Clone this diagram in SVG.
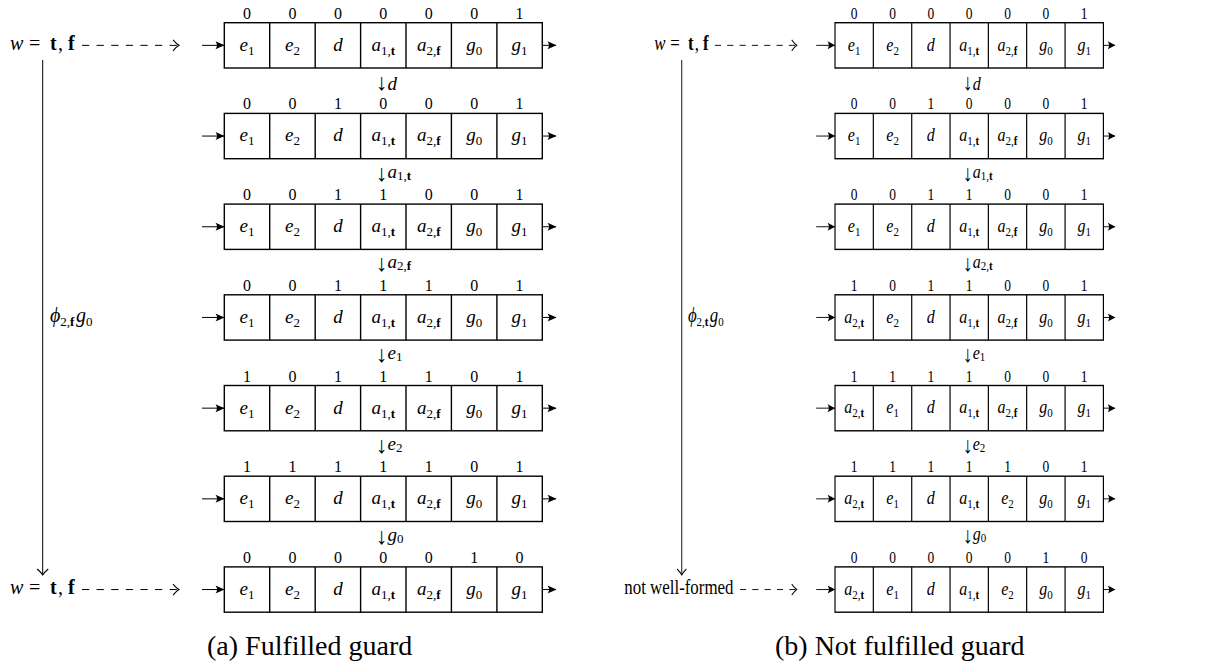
<svg xmlns="http://www.w3.org/2000/svg" width="1218" height="661" viewBox="0 0 1218 661">
<style>
.tp{fill:#fff;stroke:#000;stroke-width:1.4}
.dv{stroke:#000;stroke-width:1.4;fill:none}
text{font-family:"Liberation Serif","DejaVu Serif",serif;fill:#000}
.n{font-size:16px;text-anchor:middle}
.m{font-size:19px;font-style:italic;text-anchor:middle}
.s{font-size:13px;font-style:normal}
.b{font-weight:bold;font-style:normal}
.i{font-style:italic}
.up{font-style:normal}
.ar{font-style:normal;font-size:23px}
.lbl{font-size:20px}
.st{font-size:19px}
.cap{font-size:28px}
.ln{stroke:#000;stroke-width:1;fill:none}
.ds{stroke-dasharray:7.3 7.3}
</style>
<defs>
<marker id="to" viewBox="-8 -7 10 14" markerWidth="10" markerHeight="14" refX="0" refY="0" orient="auto" markerUnits="userSpaceOnUse"><path d="M-6,-5.5 Q-2.4,-1.4 0,0 Q-2.4,1.4 -6,5.5" fill="none" stroke="#000" stroke-width="1.1"/></marker>
<marker id="lx" viewBox="-10 -5 11 10" markerWidth="11" markerHeight="10" refX="0" refY="0" orient="auto" markerUnits="userSpaceOnUse"><path d="M0.5,0 L-8.5,-4 Q-5.5,0 -8.5,4Z" fill="#000"/></marker>
</defs>

<g id="panel-a">
<g id="a-connectors">
<path class="ln" marker-end="url(#lx)" d="M202 45.35H224"/>
<path class="ln" marker-end="url(#lx)" d="M202 136.05H224"/>
<path class="ln" marker-end="url(#lx)" d="M202 226.75H224"/>
<path class="ln" marker-end="url(#lx)" d="M202 317.45H224"/>
<path class="ln" marker-end="url(#lx)" d="M202 408.15H224"/>
<path class="ln" marker-end="url(#lx)" d="M202 498.85H224"/>
<path class="ln" marker-end="url(#lx)" d="M202 589.55H224"/>
<path class="ln" marker-end="url(#lx)" d="M542.3 45.35H556"/>
<path class="ln" marker-end="url(#lx)" d="M542.3 136.05H556"/>
<path class="ln" marker-end="url(#lx)" d="M542.3 226.75H556"/>
<path class="ln" marker-end="url(#lx)" d="M542.3 317.45H556"/>
<path class="ln" marker-end="url(#lx)" d="M542.3 408.15H556"/>
<path class="ln" marker-end="url(#lx)" d="M542.3 498.85H556"/>
<path class="ln" marker-end="url(#lx)" d="M542.3 589.55H556"/>
<path class="ln ds" marker-end="url(#to)" d="M82 45.35H179"/>
<path class="ln ds" marker-end="url(#to)" d="M82 589.55H179"/>
<path class="ln" marker-end="url(#to)" d="M42.7 60V575"/>
<text class="st" x="376" y="90"><tspan class="ar">↓</tspan><tspan class="i">d</tspan></text>
<text class="st" x="376" y="180.7"><tspan class="ar">↓</tspan><tspan class="i" dy="-3">a</tspan><tspan class="s" dy="2">1,<tspan class="b">t</tspan></tspan></text>
<text class="st" x="376" y="271.4"><tspan class="ar">↓</tspan><tspan class="i" dy="-3">a</tspan><tspan class="s" dy="2">2,<tspan class="b">f</tspan></tspan></text>
<text class="st" x="376" y="362.1"><tspan class="ar">↓</tspan><tspan class="i" dy="-3">e</tspan><tspan class="s" dy="2">1</tspan></text>
<text class="st" x="376" y="452.8"><tspan class="ar">↓</tspan><tspan class="i" dy="-3">e</tspan><tspan class="s" dy="2">2</tspan></text>
<text class="st" x="376" y="543.5"><tspan class="ar">↓</tspan><tspan class="i" dy="-3">g</tspan><tspan class="s" dy="2">0</tspan></text>
</g>
<text id="a-w-top" class="lbl" y="50"><tspan class="i" x="10">w</tspan><tspan x="29">=</tspan><tspan class="b" x="50">t</tspan><tspan x="58">,</tspan><tspan class="b" x="68">f</tspan></text>
<text id="a-phi" class="lbl" x="50" y="322"><tspan class="i">ϕ</tspan><tspan class="s" dy="4">2,<tspan class="b">f</tspan></tspan><tspan class="i" dx="1.5" dy="-4">g</tspan><tspan class="s" dy="4">0</tspan></text>
<text id="a-w-bot" class="lbl" y="594.2"><tspan class="i" x="10">w</tspan><tspan x="29">=</tspan><tspan class="b" x="50">t</tspan><tspan x="58">,</tspan><tspan class="b" x="68">f</tspan></text>

<g id="a-row1" transform="translate(0,22.7)">
<rect class="tp" x="224.3" width="318" height="45.3"/>
<path class="dv" d="M269.7 0v45.3M315.2 0v45.3M360.6 0v45.3M406 0v45.3M451.4 0v45.3M496.9 0v45.3"/>
<text class="n" y="-4"><tspan x="247">0</tspan><tspan x="292.5">0</tspan><tspan x="337.9">0</tspan><tspan x="383.3">0</tspan><tspan x="428.7">0</tspan><tspan x="474.2">0</tspan><tspan x="519.6">1</tspan></text>
<text class="m" x="247" y="28">e<tspan class="s" dy="4">1</tspan></text>
<text class="m" x="292.5" y="28">e<tspan class="s" dy="4">2</tspan></text>
<text class="m" x="337.9" y="28">d</text>
<text class="m" x="383.3" y="28">a<tspan class="s" dy="4">1,<tspan class="b">t</tspan></tspan></text>
<text class="m" x="428.7" y="28">a<tspan class="s" dy="4">2,<tspan class="b">f</tspan></tspan></text>
<text class="m" x="474.2" y="28">g<tspan class="s" dy="4">0</tspan></text>
<text class="m" x="519.6" y="28">g<tspan class="s" dy="4">1</tspan></text>
</g>
<g id="a-row2" transform="translate(0,113.4)">
<rect class="tp" x="224.3" width="318" height="45.3"/>
<path class="dv" d="M269.7 0v45.3M315.2 0v45.3M360.6 0v45.3M406 0v45.3M451.4 0v45.3M496.9 0v45.3"/>
<text class="n" y="-4"><tspan x="247">0</tspan><tspan x="292.5">0</tspan><tspan x="337.9">1</tspan><tspan x="383.3">0</tspan><tspan x="428.7">0</tspan><tspan x="474.2">0</tspan><tspan x="519.6">1</tspan></text>
<text class="m" x="247" y="28">e<tspan class="s" dy="4">1</tspan></text>
<text class="m" x="292.5" y="28">e<tspan class="s" dy="4">2</tspan></text>
<text class="m" x="337.9" y="28">d</text>
<text class="m" x="383.3" y="28">a<tspan class="s" dy="4">1,<tspan class="b">t</tspan></tspan></text>
<text class="m" x="428.7" y="28">a<tspan class="s" dy="4">2,<tspan class="b">f</tspan></tspan></text>
<text class="m" x="474.2" y="28">g<tspan class="s" dy="4">0</tspan></text>
<text class="m" x="519.6" y="28">g<tspan class="s" dy="4">1</tspan></text>
</g>
<g id="a-row3" transform="translate(0,204.1)">
<rect class="tp" x="224.3" width="318" height="45.3"/>
<path class="dv" d="M269.7 0v45.3M315.2 0v45.3M360.6 0v45.3M406 0v45.3M451.4 0v45.3M496.9 0v45.3"/>
<text class="n" y="-4"><tspan x="247">0</tspan><tspan x="292.5">0</tspan><tspan x="337.9">1</tspan><tspan x="383.3">1</tspan><tspan x="428.7">0</tspan><tspan x="474.2">0</tspan><tspan x="519.6">1</tspan></text>
<text class="m" x="247" y="28">e<tspan class="s" dy="4">1</tspan></text>
<text class="m" x="292.5" y="28">e<tspan class="s" dy="4">2</tspan></text>
<text class="m" x="337.9" y="28">d</text>
<text class="m" x="383.3" y="28">a<tspan class="s" dy="4">1,<tspan class="b">t</tspan></tspan></text>
<text class="m" x="428.7" y="28">a<tspan class="s" dy="4">2,<tspan class="b">f</tspan></tspan></text>
<text class="m" x="474.2" y="28">g<tspan class="s" dy="4">0</tspan></text>
<text class="m" x="519.6" y="28">g<tspan class="s" dy="4">1</tspan></text>
</g>
<g id="a-row4" transform="translate(0,294.8)">
<rect class="tp" x="224.3" width="318" height="45.3"/>
<path class="dv" d="M269.7 0v45.3M315.2 0v45.3M360.6 0v45.3M406 0v45.3M451.4 0v45.3M496.9 0v45.3"/>
<text class="n" y="-4"><tspan x="247">0</tspan><tspan x="292.5">0</tspan><tspan x="337.9">1</tspan><tspan x="383.3">1</tspan><tspan x="428.7">1</tspan><tspan x="474.2">0</tspan><tspan x="519.6">1</tspan></text>
<text class="m" x="247" y="28">e<tspan class="s" dy="4">1</tspan></text>
<text class="m" x="292.5" y="28">e<tspan class="s" dy="4">2</tspan></text>
<text class="m" x="337.9" y="28">d</text>
<text class="m" x="383.3" y="28">a<tspan class="s" dy="4">1,<tspan class="b">t</tspan></tspan></text>
<text class="m" x="428.7" y="28">a<tspan class="s" dy="4">2,<tspan class="b">f</tspan></tspan></text>
<text class="m" x="474.2" y="28">g<tspan class="s" dy="4">0</tspan></text>
<text class="m" x="519.6" y="28">g<tspan class="s" dy="4">1</tspan></text>
</g>
<g id="a-row5" transform="translate(0,385.5)">
<rect class="tp" x="224.3" width="318" height="45.3"/>
<path class="dv" d="M269.7 0v45.3M315.2 0v45.3M360.6 0v45.3M406 0v45.3M451.4 0v45.3M496.9 0v45.3"/>
<text class="n" y="-4"><tspan x="247">1</tspan><tspan x="292.5">0</tspan><tspan x="337.9">1</tspan><tspan x="383.3">1</tspan><tspan x="428.7">1</tspan><tspan x="474.2">0</tspan><tspan x="519.6">1</tspan></text>
<text class="m" x="247" y="28">e<tspan class="s" dy="4">1</tspan></text>
<text class="m" x="292.5" y="28">e<tspan class="s" dy="4">2</tspan></text>
<text class="m" x="337.9" y="28">d</text>
<text class="m" x="383.3" y="28">a<tspan class="s" dy="4">1,<tspan class="b">t</tspan></tspan></text>
<text class="m" x="428.7" y="28">a<tspan class="s" dy="4">2,<tspan class="b">f</tspan></tspan></text>
<text class="m" x="474.2" y="28">g<tspan class="s" dy="4">0</tspan></text>
<text class="m" x="519.6" y="28">g<tspan class="s" dy="4">1</tspan></text>
</g>
<g id="a-row6" transform="translate(0,476.2)">
<rect class="tp" x="224.3" width="318" height="45.3"/>
<path class="dv" d="M269.7 0v45.3M315.2 0v45.3M360.6 0v45.3M406 0v45.3M451.4 0v45.3M496.9 0v45.3"/>
<text class="n" y="-4"><tspan x="247">1</tspan><tspan x="292.5">1</tspan><tspan x="337.9">1</tspan><tspan x="383.3">1</tspan><tspan x="428.7">1</tspan><tspan x="474.2">0</tspan><tspan x="519.6">1</tspan></text>
<text class="m" x="247" y="28">e<tspan class="s" dy="4">1</tspan></text>
<text class="m" x="292.5" y="28">e<tspan class="s" dy="4">2</tspan></text>
<text class="m" x="337.9" y="28">d</text>
<text class="m" x="383.3" y="28">a<tspan class="s" dy="4">1,<tspan class="b">t</tspan></tspan></text>
<text class="m" x="428.7" y="28">a<tspan class="s" dy="4">2,<tspan class="b">f</tspan></tspan></text>
<text class="m" x="474.2" y="28">g<tspan class="s" dy="4">0</tspan></text>
<text class="m" x="519.6" y="28">g<tspan class="s" dy="4">1</tspan></text>
</g>
<g id="a-row7" transform="translate(0,566.9)">
<rect class="tp" x="224.3" width="318" height="45.3"/>
<path class="dv" d="M269.7 0v45.3M315.2 0v45.3M360.6 0v45.3M406 0v45.3M451.4 0v45.3M496.9 0v45.3"/>
<text class="n" y="-4"><tspan x="247">0</tspan><tspan x="292.5">0</tspan><tspan x="337.9">0</tspan><tspan x="383.3">0</tspan><tspan x="428.7">0</tspan><tspan x="474.2">1</tspan><tspan x="519.6">0</tspan></text>
<text class="m" x="247" y="28">e<tspan class="s" dy="4">1</tspan></text>
<text class="m" x="292.5" y="28">e<tspan class="s" dy="4">2</tspan></text>
<text class="m" x="337.9" y="28">d</text>
<text class="m" x="383.3" y="28">a<tspan class="s" dy="4">1,<tspan class="b">t</tspan></tspan></text>
<text class="m" x="428.7" y="28">a<tspan class="s" dy="4">2,<tspan class="b">f</tspan></tspan></text>
<text class="m" x="474.2" y="28">g<tspan class="s" dy="4">0</tspan></text>
<text class="m" x="519.6" y="28">g<tspan class="s" dy="4">1</tspan></text>
</g>
</g>

<g id="panel-b" transform="translate(645.7,0) scale(0.844,1)">
<g id="b-connectors">
<path class="ln" marker-end="url(#lx)" d="M202 45.35H224"/>
<path class="ln" marker-end="url(#lx)" d="M202 136.05H224"/>
<path class="ln" marker-end="url(#lx)" d="M202 226.75H224"/>
<path class="ln" marker-end="url(#lx)" d="M202 317.45H224"/>
<path class="ln" marker-end="url(#lx)" d="M202 408.15H224"/>
<path class="ln" marker-end="url(#lx)" d="M202 498.85H224"/>
<path class="ln" marker-end="url(#lx)" d="M202 589.55H224"/>
<path class="ln" marker-end="url(#lx)" d="M542.3 45.35H556"/>
<path class="ln" marker-end="url(#lx)" d="M542.3 136.05H556"/>
<path class="ln" marker-end="url(#lx)" d="M542.3 226.75H556"/>
<path class="ln" marker-end="url(#lx)" d="M542.3 317.45H556"/>
<path class="ln" marker-end="url(#lx)" d="M542.3 408.15H556"/>
<path class="ln" marker-end="url(#lx)" d="M542.3 498.85H556"/>
<path class="ln" marker-end="url(#lx)" d="M542.3 589.55H556"/>
<path class="ln ds" marker-end="url(#to)" d="M82 45.35H179"/>
<path class="ln ds" marker-end="url(#to)" d="M111.7 589.55H179"/>
<path class="ln" marker-end="url(#to)" d="M42.7 60V575"/>
<text class="st" x="376" y="90"><tspan class="ar">↓</tspan><tspan class="i">d</tspan></text>
<text class="st" x="376" y="180.7"><tspan class="ar">↓</tspan><tspan class="i" dy="-3">a</tspan><tspan class="s" dy="2">1,<tspan class="b">t</tspan></tspan></text>
<text class="st" x="376" y="271.4"><tspan class="ar">↓</tspan><tspan class="i" dy="-3">a</tspan><tspan class="s" dy="2">2,<tspan class="b">t</tspan></tspan></text>
<text class="st" x="376" y="362.1"><tspan class="ar">↓</tspan><tspan class="i" dy="-3">e</tspan><tspan class="s" dy="2">1</tspan></text>
<text class="st" x="376" y="452.8"><tspan class="ar">↓</tspan><tspan class="i" dy="-3">e</tspan><tspan class="s" dy="2">2</tspan></text>
<text class="st" x="376" y="543.5"><tspan class="ar">↓</tspan><tspan class="i" dy="-3">g</tspan><tspan class="s" dy="2">0</tspan></text>
</g>
<text id="b-w-top" class="lbl" y="50"><tspan class="i" x="10">w</tspan><tspan x="29">=</tspan><tspan class="b" x="50">t</tspan><tspan x="58">,</tspan><tspan class="b" x="68">f</tspan></text>
<text id="b-phi" class="lbl" x="50" y="322"><tspan class="i">ϕ</tspan><tspan class="s" dy="4">2,<tspan class="b">t</tspan></tspan><tspan class="i" dx="1.5" dy="-4">g</tspan><tspan class="s" dy="4">0</tspan></text>
<text id="b-notwf" class="lbl" x="104" y="594.2" text-anchor="end">not well-formed</text>

<g id="b-row1" transform="translate(0,22.7)">
<rect class="tp" x="224.3" width="318" height="45.3"/>
<path class="dv" d="M269.7 0v45.3M315.2 0v45.3M360.6 0v45.3M406 0v45.3M451.4 0v45.3M496.9 0v45.3"/>
<text class="n" y="-4"><tspan x="247">0</tspan><tspan x="292.5">0</tspan><tspan x="337.9">0</tspan><tspan x="383.3">0</tspan><tspan x="428.7">0</tspan><tspan x="474.2">0</tspan><tspan x="519.6">1</tspan></text>
<text class="m" x="247" y="28">e<tspan class="s" dy="4">1</tspan></text>
<text class="m" x="292.5" y="28">e<tspan class="s" dy="4">2</tspan></text>
<text class="m" x="337.9" y="28">d</text>
<text class="m" x="383.3" y="28">a<tspan class="s" dy="4">1,<tspan class="b">t</tspan></tspan></text>
<text class="m" x="428.7" y="28">a<tspan class="s" dy="4">2,<tspan class="b">f</tspan></tspan></text>
<text class="m" x="474.2" y="28">g<tspan class="s" dy="4">0</tspan></text>
<text class="m" x="519.6" y="28">g<tspan class="s" dy="4">1</tspan></text>
</g>
<g id="b-row2" transform="translate(0,113.4)">
<rect class="tp" x="224.3" width="318" height="45.3"/>
<path class="dv" d="M269.7 0v45.3M315.2 0v45.3M360.6 0v45.3M406 0v45.3M451.4 0v45.3M496.9 0v45.3"/>
<text class="n" y="-4"><tspan x="247">0</tspan><tspan x="292.5">0</tspan><tspan x="337.9">1</tspan><tspan x="383.3">0</tspan><tspan x="428.7">0</tspan><tspan x="474.2">0</tspan><tspan x="519.6">1</tspan></text>
<text class="m" x="247" y="28">e<tspan class="s" dy="4">1</tspan></text>
<text class="m" x="292.5" y="28">e<tspan class="s" dy="4">2</tspan></text>
<text class="m" x="337.9" y="28">d</text>
<text class="m" x="383.3" y="28">a<tspan class="s" dy="4">1,<tspan class="b">t</tspan></tspan></text>
<text class="m" x="428.7" y="28">a<tspan class="s" dy="4">2,<tspan class="b">f</tspan></tspan></text>
<text class="m" x="474.2" y="28">g<tspan class="s" dy="4">0</tspan></text>
<text class="m" x="519.6" y="28">g<tspan class="s" dy="4">1</tspan></text>
</g>
<g id="b-row3" transform="translate(0,204.1)">
<rect class="tp" x="224.3" width="318" height="45.3"/>
<path class="dv" d="M269.7 0v45.3M315.2 0v45.3M360.6 0v45.3M406 0v45.3M451.4 0v45.3M496.9 0v45.3"/>
<text class="n" y="-4"><tspan x="247">0</tspan><tspan x="292.5">0</tspan><tspan x="337.9">1</tspan><tspan x="383.3">1</tspan><tspan x="428.7">0</tspan><tspan x="474.2">0</tspan><tspan x="519.6">1</tspan></text>
<text class="m" x="247" y="28">e<tspan class="s" dy="4">1</tspan></text>
<text class="m" x="292.5" y="28">e<tspan class="s" dy="4">2</tspan></text>
<text class="m" x="337.9" y="28">d</text>
<text class="m" x="383.3" y="28">a<tspan class="s" dy="4">1,<tspan class="b">t</tspan></tspan></text>
<text class="m" x="428.7" y="28">a<tspan class="s" dy="4">2,<tspan class="b">f</tspan></tspan></text>
<text class="m" x="474.2" y="28">g<tspan class="s" dy="4">0</tspan></text>
<text class="m" x="519.6" y="28">g<tspan class="s" dy="4">1</tspan></text>
</g>
<g id="b-row4" transform="translate(0,294.8)">
<rect class="tp" x="224.3" width="318" height="45.3"/>
<path class="dv" d="M269.7 0v45.3M315.2 0v45.3M360.6 0v45.3M406 0v45.3M451.4 0v45.3M496.9 0v45.3"/>
<text class="n" y="-4"><tspan x="247">1</tspan><tspan x="292.5">0</tspan><tspan x="337.9">1</tspan><tspan x="383.3">1</tspan><tspan x="428.7">0</tspan><tspan x="474.2">0</tspan><tspan x="519.6">1</tspan></text>
<text class="m" x="247" y="28">a<tspan class="s" dy="4">2,<tspan class="b">t</tspan></tspan></text>
<text class="m" x="292.5" y="28">e<tspan class="s" dy="4">2</tspan></text>
<text class="m" x="337.9" y="28">d</text>
<text class="m" x="383.3" y="28">a<tspan class="s" dy="4">1,<tspan class="b">t</tspan></tspan></text>
<text class="m" x="428.7" y="28">a<tspan class="s" dy="4">2,<tspan class="b">f</tspan></tspan></text>
<text class="m" x="474.2" y="28">g<tspan class="s" dy="4">0</tspan></text>
<text class="m" x="519.6" y="28">g<tspan class="s" dy="4">1</tspan></text>
</g>
<g id="b-row5" transform="translate(0,385.5)">
<rect class="tp" x="224.3" width="318" height="45.3"/>
<path class="dv" d="M269.7 0v45.3M315.2 0v45.3M360.6 0v45.3M406 0v45.3M451.4 0v45.3M496.9 0v45.3"/>
<text class="n" y="-4"><tspan x="247">1</tspan><tspan x="292.5">1</tspan><tspan x="337.9">1</tspan><tspan x="383.3">1</tspan><tspan x="428.7">0</tspan><tspan x="474.2">0</tspan><tspan x="519.6">1</tspan></text>
<text class="m" x="247" y="28">a<tspan class="s" dy="4">2,<tspan class="b">t</tspan></tspan></text>
<text class="m" x="292.5" y="28">e<tspan class="s" dy="4">1</tspan></text>
<text class="m" x="337.9" y="28">d</text>
<text class="m" x="383.3" y="28">a<tspan class="s" dy="4">1,<tspan class="b">t</tspan></tspan></text>
<text class="m" x="428.7" y="28">a<tspan class="s" dy="4">2,<tspan class="b">f</tspan></tspan></text>
<text class="m" x="474.2" y="28">g<tspan class="s" dy="4">0</tspan></text>
<text class="m" x="519.6" y="28">g<tspan class="s" dy="4">1</tspan></text>
</g>
<g id="b-row6" transform="translate(0,476.2)">
<rect class="tp" x="224.3" width="318" height="45.3"/>
<path class="dv" d="M269.7 0v45.3M315.2 0v45.3M360.6 0v45.3M406 0v45.3M451.4 0v45.3M496.9 0v45.3"/>
<text class="n" y="-4"><tspan x="247">1</tspan><tspan x="292.5">1</tspan><tspan x="337.9">1</tspan><tspan x="383.3">1</tspan><tspan x="428.7">1</tspan><tspan x="474.2">0</tspan><tspan x="519.6">1</tspan></text>
<text class="m" x="247" y="28">a<tspan class="s" dy="4">2,<tspan class="b">t</tspan></tspan></text>
<text class="m" x="292.5" y="28">e<tspan class="s" dy="4">1</tspan></text>
<text class="m" x="337.9" y="28">d</text>
<text class="m" x="383.3" y="28">a<tspan class="s" dy="4">1,<tspan class="b">t</tspan></tspan></text>
<text class="m" x="428.7" y="28">e<tspan class="s" dy="4">2</tspan></text>
<text class="m" x="474.2" y="28">g<tspan class="s" dy="4">0</tspan></text>
<text class="m" x="519.6" y="28">g<tspan class="s" dy="4">1</tspan></text>
</g>
<g id="b-row7" transform="translate(0,566.9)">
<rect class="tp" x="224.3" width="318" height="45.3"/>
<path class="dv" d="M269.7 0v45.3M315.2 0v45.3M360.6 0v45.3M406 0v45.3M451.4 0v45.3M496.9 0v45.3"/>
<text class="n" y="-4"><tspan x="247">0</tspan><tspan x="292.5">0</tspan><tspan x="337.9">0</tspan><tspan x="383.3">0</tspan><tspan x="428.7">0</tspan><tspan x="474.2">1</tspan><tspan x="519.6">0</tspan></text>
<text class="m" x="247" y="28">a<tspan class="s" dy="4">2,<tspan class="b">t</tspan></tspan></text>
<text class="m" x="292.5" y="28">e<tspan class="s" dy="4">1</tspan></text>
<text class="m" x="337.9" y="28">d</text>
<text class="m" x="383.3" y="28">a<tspan class="s" dy="4">1,<tspan class="b">t</tspan></tspan></text>
<text class="m" x="428.7" y="28">e<tspan class="s" dy="4">2</tspan></text>
<text class="m" x="474.2" y="28">g<tspan class="s" dy="4">0</tspan></text>
<text class="m" x="519.6" y="28">g<tspan class="s" dy="4">1</tspan></text>
</g>
</g>

<text id="cap-a" class="cap" x="207" y="655">(a) Fulfilled guard</text>
<text id="cap-b" class="cap" x="775" y="655">(b) Not fulfilled guard</text>
</svg>
